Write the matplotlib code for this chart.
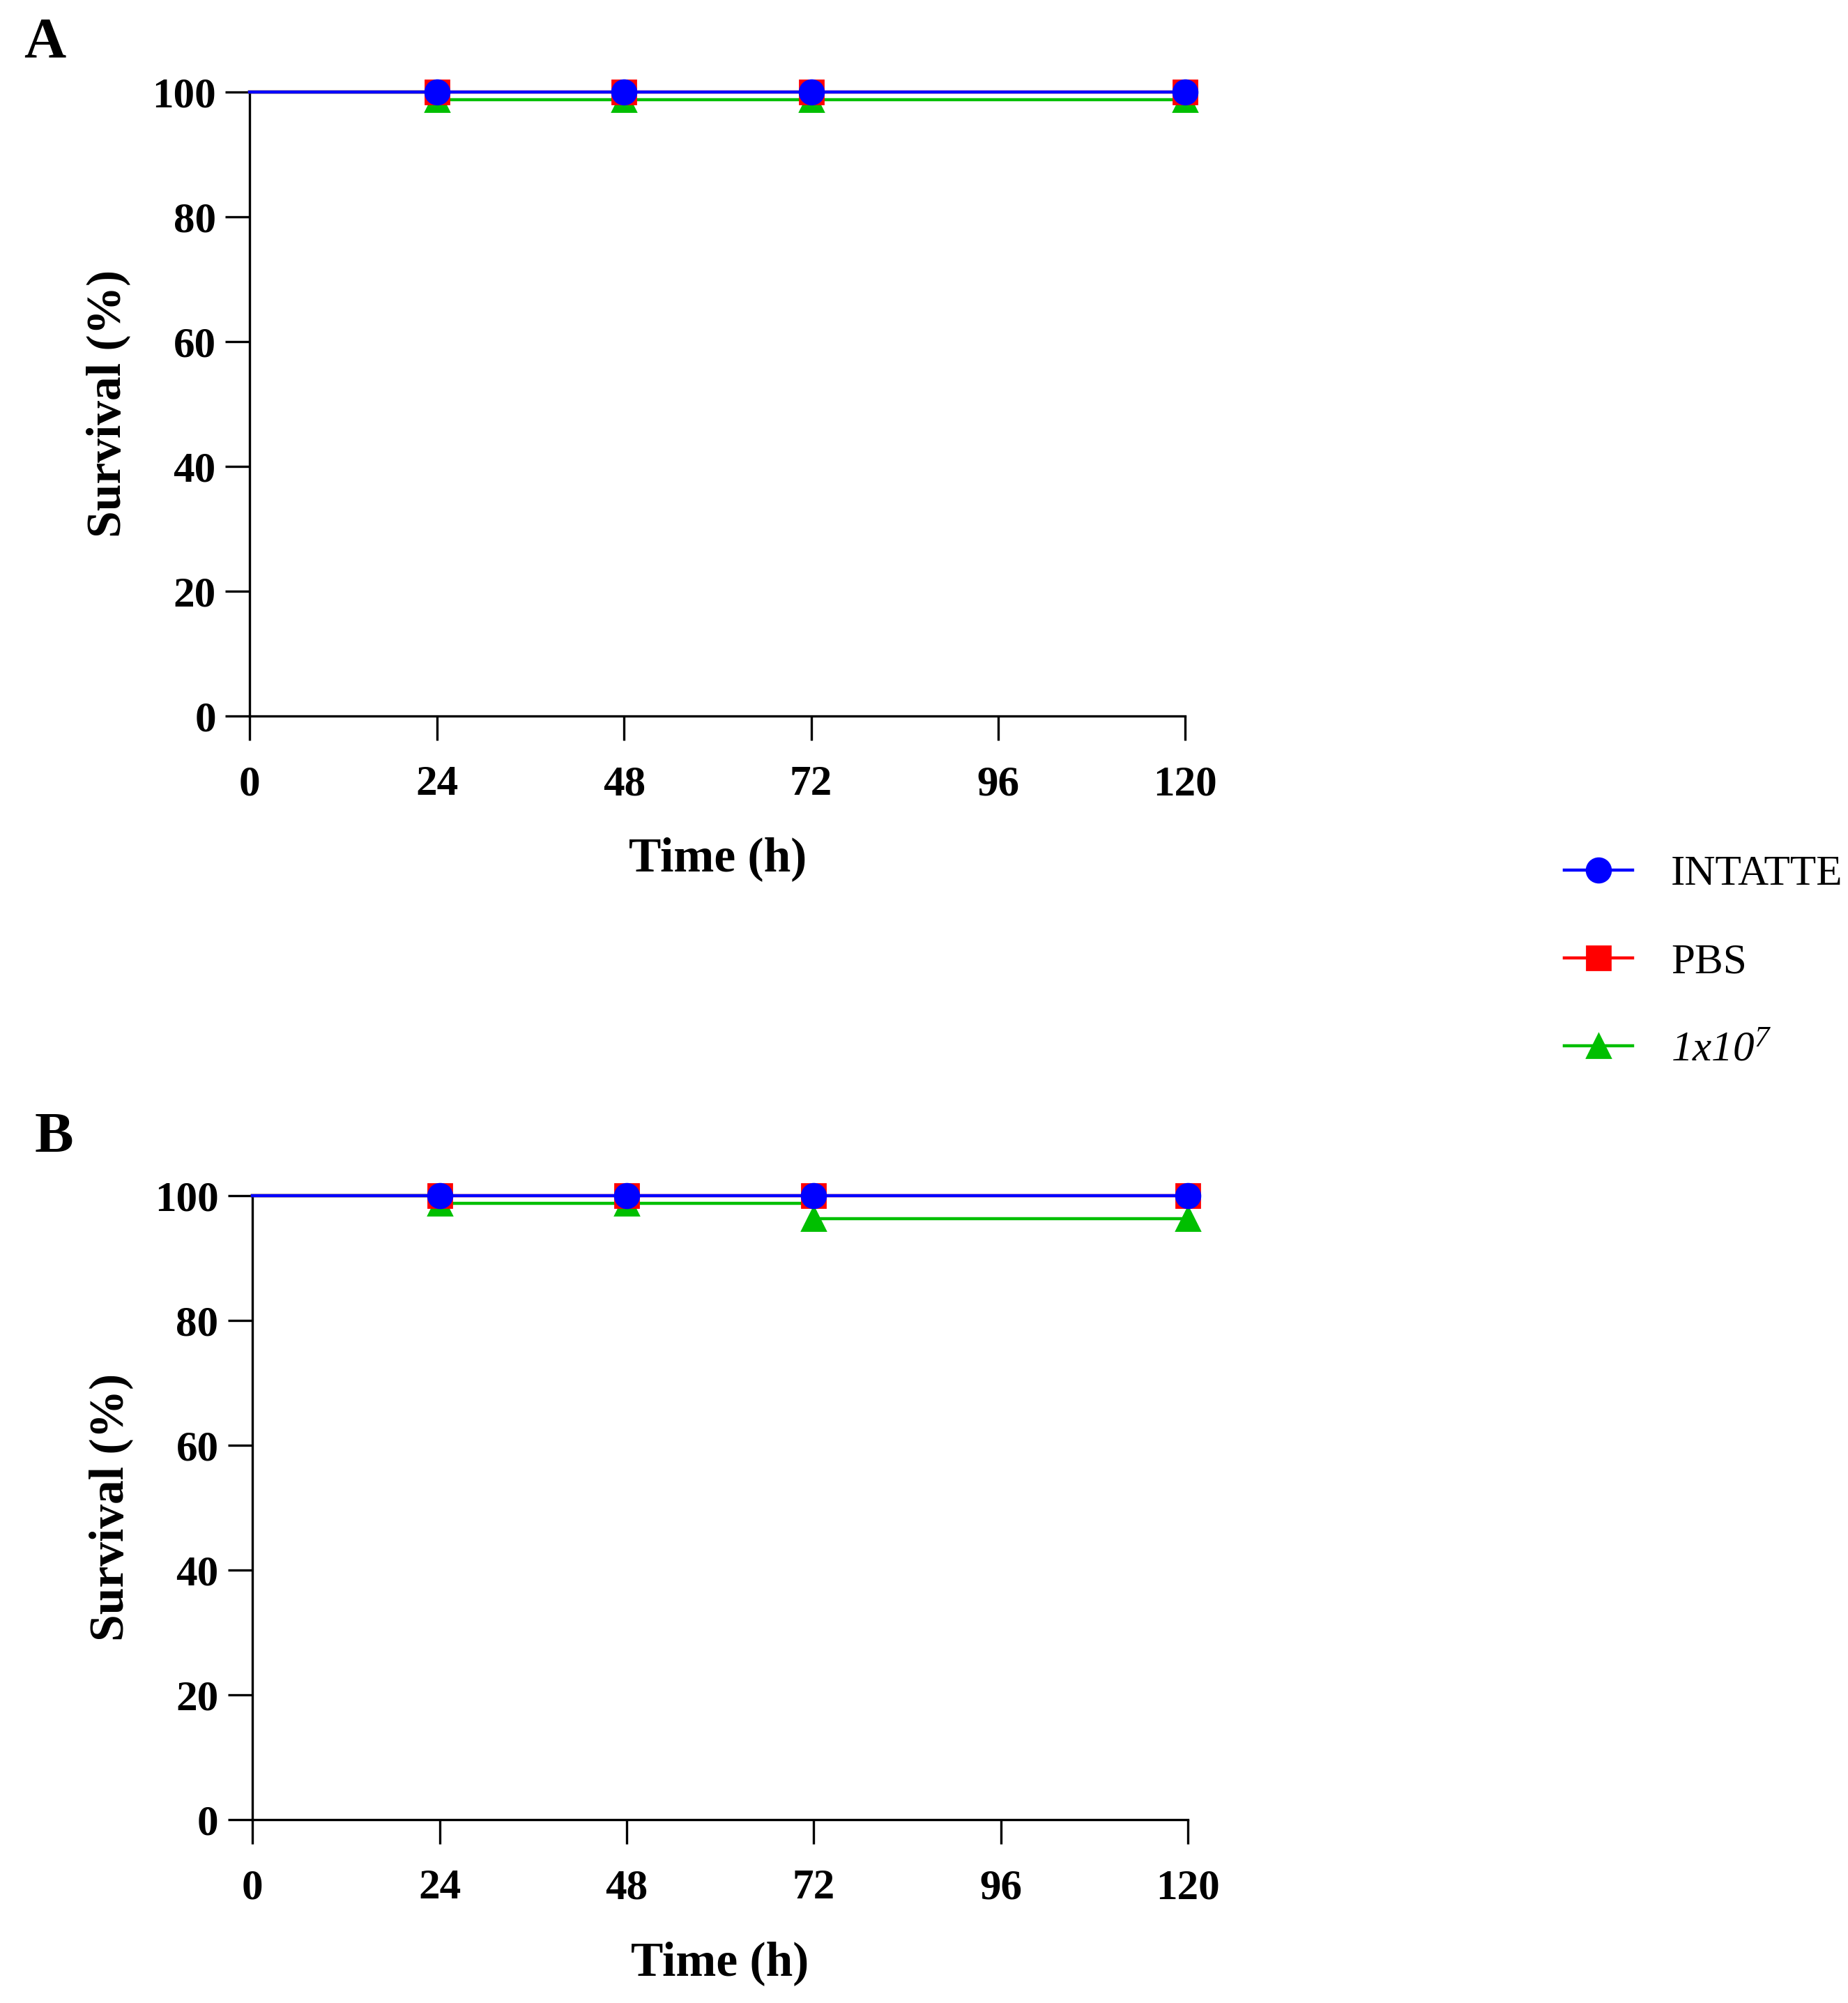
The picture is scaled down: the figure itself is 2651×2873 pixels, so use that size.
import matplotlib
matplotlib.use("Agg")
import matplotlib.pyplot as plt

# ---- data ----
time_h = [0, 24, 48, 72, 120]
xticks = [0, 24, 48, 72, 96, 120]
yticks = [0, 20, 40, 60, 80, 100]
series_names = ["INTATTE", "PBS", r"$\mathrm{1x10}^{\mathrm{7}}$"]
A_intatte = [100, 100, 100, 100, 100]
A_pbs = [100, 100, 100, 100, 100]
A_dose = [100, 98.75, 98.75, 98.75, 98.75]
B_intatte = [100, 100, 100, 100, 100]
B_pbs = [100, 100, 100, 100, 100]
B_dose = [100, 98.75, 98.75, 96.25, 96.25]

colors = ["#0000FF", "#FF0000", "#00BF00"]
markers = ["o", "s", "^"]

plt.rcParams['font.family'] = ['Liberation Serif', 'DejaVu Serif']
plt.rcParams['mathtext.fontset'] = 'custom'
plt.rcParams['mathtext.rm'] = 'Liberation Serif:italic'
plt.rcParams['mathtext.it'] = 'Liberation Serif:italic'

fig = plt.figure(figsize=(2651/200, 2873/200), dpi=200)

def panel(rect, series, letter, letter_xy):
    ax = fig.add_axes(rect)
    handles = []
    order = [2, 1, 0]
    for i in order:
        vals = series[i]
        ms = 12.5 if markers[i] != 's' else 12
        (ln,) = ax.plot(time_h, vals, drawstyle='steps-post', color=colors[i],
                        lw=1.6, marker=markers[i], markersize=ms,
                        markevery=[1, 2, 3, 4], markeredgecolor=colors[i],
                        clip_on=False, zorder=3 + (2 - i), label=series_names[i])
        handles.append((i, ln))
    ax.set_xlim(0, 120)
    ax.set_ylim(0, 100)
    ax.set_xticks(xticks)
    ax.set_yticks(yticks)
    for s in ['top', 'right']:
        ax.spines[s].set_visible(False)
    for s in ['left', 'bottom']:
        ax.spines[s].set_linewidth(1.2)
    ax.tick_params(axis='both', direction='out', length=12.5, width=1.2,
                   labelsize=22)
    ax.tick_params(axis='x', pad=13)
    ax.tick_params(axis='y', pad=5)
    for lab in ax.get_xticklabels() + ax.get_yticklabels():
        lab.set_fontweight('bold')
    ax.set_xlabel("Time (h)", fontsize=25, fontweight='bold', labelpad=17)
    ax.set_ylabel("Survival (%)", fontsize=25, fontweight='bold', labelpad=11)
    fig.text(letter_xy[0], letter_xy[1], letter, fontsize=30, fontweight='bold',
             ha='center', va='center')
    handles.sort(key=lambda t: t[0])
    return ax, [h for _, h in handles]

axA, hA = panel([0.1352, 0.6427, 0.5062, 0.3114],
                [A_intatte, A_pbs, A_dose], "A", (64/2651, 1 - 62/2873))
axB, hB = panel([0.1366, 0.0917, 0.5062, 0.3115],
                [B_intatte, B_pbs, B_dose], "B", (77/2651, 1 - 1633/2873))

leg = fig.legend(hA, series_names, loc='center left',
                 bbox_to_anchor=(0.8466, 0.5195), frameon=False, fontsize=22,
                 handlelength=1.6, handletextpad=0.9, labelspacing=1.15,
                 borderpad=0, borderaxespad=0)
leg.get_texts()[2].set_fontstyle('italic')

fig.savefig("out.png", dpi=200)
